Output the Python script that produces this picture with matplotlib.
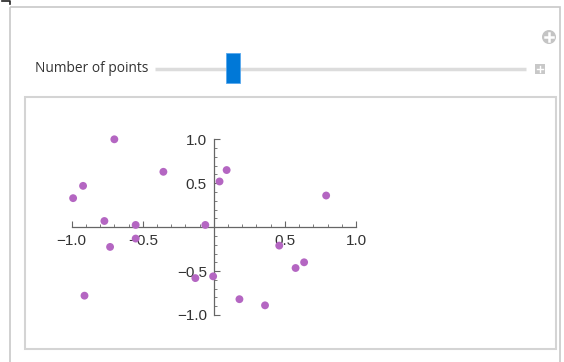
import matplotlib
matplotlib.use("Agg")
import matplotlib.pyplot as plt
import matplotlib.patches as mpatches
from matplotlib.ticker import MultipleLocator, FixedLocator

# points
xs = [-0.70, -0.92, -0.99, -0.77, -0.55, -0.55, -0.73, -0.91, -0.355, -0.06,
      0.04, 0.09, -0.13, -0.005, 0.18, 0.36, 0.46, 0.575, 0.635, 0.79]
ys = [1.00, 0.47, 0.33, 0.07, 0.025, -0.13, -0.225, -0.78, 0.63, 0.025,
      0.52, 0.65, -0.58, -0.56, -0.82, -0.89, -0.21, -0.465, -0.40, 0.36]
tick_vals = [-1.0, -0.5, 0.5, 1.0]
slider_label = "Number of points"
slider_frac = 0.21  # thumb position along the track

W, H = 564, 362
fig = plt.figure(figsize=(W / 100, H / 100), dpi=100)

# panel background drawn in pixel coordinates
bg = fig.add_axes([0, 0, 1, 1])
bg.set_xlim(0, W)
bg.set_ylim(H, 0)
bg.axis("off")

# little bracket in the corner
bg.plot([2, 10, 10], [1, 1, 4], color="#222222", lw=1.2)
# outer panel
bg.add_patch(mpatches.Rectangle((10, 7), 550, 360, fill=False, ec="#c8c8c8", lw=1.2))
# inner plot frame
bg.add_patch(mpatches.Rectangle((25, 97), 531, 252, fill=False, ec="#d4d4d4", lw=1.5))

# slider
bg.text(35, 69, slider_label, fontsize=9.9, family="Open Sans", color="#333333",
        va="center", ha="left")
x0, x1 = 155, 526
bg.plot([x0, x1], [69, 69], color="#dcdcdc", lw=2.5, solid_capstyle="butt", zorder=1)
tx = x0 + slider_frac * (x1 - x0)
bg.add_patch(mpatches.Rectangle((tx - 7, 53), 14, 30, fc="#0078d7", ec="#58a8ee",
                                lw=0.6, zorder=5))
# plus box
bg.add_patch(mpatches.Rectangle((535, 64), 10, 10, fc="#c8c8c8", ec="none"))
bg.plot([537, 543], [69, 69], color="white", lw=1)
bg.plot([540, 540], [66, 72], color="white", lw=1)
# circle plus
bg.add_patch(mpatches.Circle((549, 37), 7, fc="#c4c4c4", ec="none"))
bg.plot([545, 553], [37, 37], color="white", lw=1.8)
bg.plot([549, 549], [33, 41], color="white", lw=1.8)

# the scatter plot, axes through the origin
ax = fig.add_axes([71.7 / W, (H - 315) / H, 284.3 / W, 175.7 / H])
ax.set_xlim(-1, 1)
ax.set_ylim(-1, 1)
ax.patch.set_alpha(0)
for s in ["top", "right"]:
    ax.spines[s].set_visible(False)
ax.spines["left"].set_position(("data", 0))
ax.spines["bottom"].set_position(("data", 0))
for s in ["left", "bottom"]:
    ax.spines[s].set_color("#666666")
    ax.spines[s].set_linewidth(0.9)

ax.xaxis.set_major_locator(FixedLocator(tick_vals))
ax.yaxis.set_major_locator(FixedLocator(tick_vals))
ax.xaxis.set_minor_locator(MultipleLocator(0.1))
ax.yaxis.set_minor_locator(MultipleLocator(0.1))
ax.set_xticklabels(["\u2212" + f"{abs(v):.1f}" if v < 0 else f"{v:.1f}" for v in tick_vals])
ax.set_yticklabels(["\u2212" + f"{abs(v):.1f}" if v < 0 else f"{v:.1f}" for v in tick_vals])
ax.tick_params(which="major", direction="in", length=4, width=0.8, color="#666666",
               labelsize=11, labelcolor="#333333", pad=5)
ax.tick_params(which="minor", direction="in", length=2.2, width=0.6, color="#666666")
for lab in ax.get_xticklabels() + ax.get_yticklabels():
    lab.set_family("Liberation Sans")

ax.scatter(xs, ys, s=32, color="#b466c2", edgecolors="none", clip_on=False, zorder=3)

fig.savefig("out.png", dpi=100)
